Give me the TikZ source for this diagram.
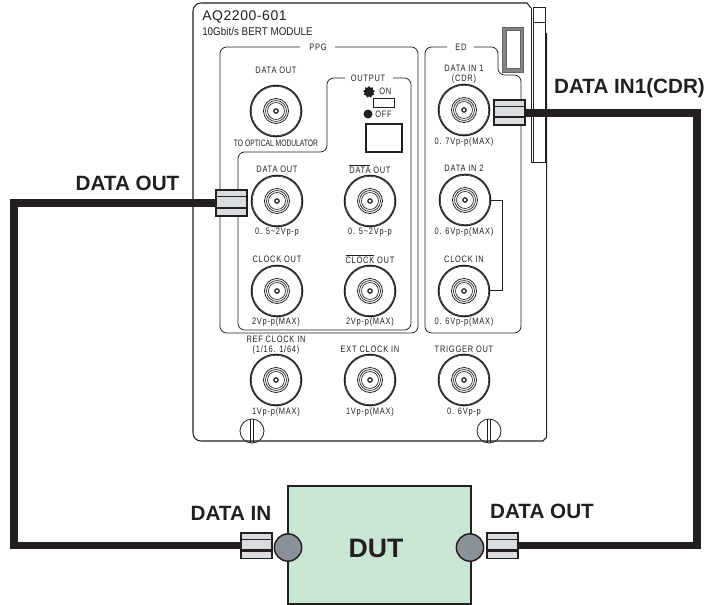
\documentclass[tikz,border=0pt]{standalone}
\usetikzlibrary{shapes.geometric}
\usepackage{fontspec}
\setmainfont{Liberation Sans}
\newfontfamily\panelfont{Liberation Sans}[FakeStretch=0.8,LetterSpace=8]
\newfontfamily\narrowfont{Liberation Sans}[FakeStretch=0.72]
\newfontfamily\subfont{Liberation Sans}[FakeStretch=0.88]
\newfontfamily\titlefont{Liberation Sans}[LetterSpace=4]
\definecolor{dutgreen}{HTML}{C9E6D4}
\definecolor{portgrey}{HTML}{8A9298}
\definecolor{plugface}{HTML}{D9DDE0}
\definecolor{ink}{HTML}{231F20}
\tikzset{
  x=0.75pt,y=-0.75pt,
  panelline/.style={draw=ink,line width=0.6pt,rounded corners=5pt},
  paneltext/.style={font=\fontsize{7}{7.5}\selectfont\panelfont,text=ink,inner sep=0pt,align=center},
  biglabel/.style={font=\fontsize{15.5}{17}\selectfont\bfseries,text=ink,inner sep=0pt},
  cable/.style={draw=ink,line width=5.5pt,line join=miter},
  port/.style={circle,draw=ink,line width=1.1pt,fill=portgrey,minimum size=20.5pt,inner sep=0pt},
  plugbody/.style={draw=ink,line width=1.1pt,fill=plugface},
}
\newcommand{\bnc}[3]{%
  \coordinate (#1) at (#2,#3);
  \draw[ink,line width=0.9pt] (#1) circle[radius=25.7];
  \draw[ink,line width=0.45pt] (#1) circle[radius=24.7];
  \draw[ink,line width=0.6pt] (#1) circle[radius=12.5];
  \draw[ink,line width=0.5pt] (#1) circle[radius=10.5];
  \draw[ink,line width=0.5pt] (#1) circle[radius=8.5];
  \draw[ink,line width=0.9pt] (#1) circle[radius=2.2];
}
\newcommand{\screw}[3]{%
  \coordinate (#1) at (#2,#3);
  \draw[ink,line width=0.6pt] (#1) circle[radius=12];
  \draw[ink,line width=0.5pt] ([xshift=-1.2]#1) ++(0,-11.9) -- ++(0,23.8);
  \draw[ink,line width=0.5pt] ([xshift=1.2]#1) ++(0,-11.9) -- ++(0,23.8);
}
\newcommand{\plug}[5]{% name, x0, y0, x1, y1
  \draw[plugbody] (#2,#3) rectangle (#4,#5);
  \node[minimum size=0,inner sep=0] (#1) at ({(#2+#4)/2},{(#3+#5)/2}) {};
  \draw[ink,line width=1.1pt] (#2,{#3+6.5}) -- (#4,{#3+6.5});
  \draw[ink,line width=1.6pt] (#2,{#5-8}) -- (#4,{#5-8});
}
\begin{document}
\begin{tikzpicture}
\useasboundingbox (0,0) rectangle (707,604);
% side slab of the module
\draw[ink,line width=0.6pt] (533,7) -- (545,7) -- (545,162) -- (531,162) -- (531,8);
\draw[ink,line width=0.6pt] (533,7) -- (533,162);
\draw[ink,line width=0.5pt] (533,22) -- (545,22);
% panel
\draw[ink,line width=0.8pt,rounded corners=6pt] (193,100) -- (193,3) -- (400,3);
\draw[ink,line width=0.8pt] (400,3) -- (527,3) -- (531,8);
\draw[ink,line width=0.8pt,rounded corners=6pt] (193,100) -- (193,441) -- (400,441);
\draw[ink,line width=0.8pt] (400,441) -- (543,441) -- (546.7,437) -- (546.7,33);
\node[anchor=west,inner sep=0,text=ink,font=\fontsize{10.5}{11}\selectfont\titlefont] (model) at (202,17) {AQ2200-601};
\node[anchor=west,inner sep=0,text=ink,font=\fontsize{8.4}{9}\selectfont\subfont] (sub) at (202,31) {10Gbit/s BERT MODULE};
% PPG frame
\draw[panelline] (300,47) -- (220,47) -- (220,333) -- (418,333) -- (418,47) -- (335,47);
\node[paneltext] (ppg) at (318,47) {PPG};
% output inner frame
\draw[panelline] (345,78) -- (327,78) -- (327,152) -- (238,152) -- (238,330) -- (411,330) -- (411,78) -- (393,78);
\node[paneltext] (outp) at (368,78) {OUTPUT};
\node[paneltext,anchor=west] (on) at (379,91) {ON};
\node[paneltext,anchor=west] (off) at (375,114) {OFF};
\node[star,star points=9,star point ratio=1.35,fill=ink,minimum size=9pt,inner sep=0] (sun) at (369,92) {};
\draw[ink,line width=0.6pt] (373,98) rectangle (394,107);
\fill[ink] (368,114) circle[radius=4.5];
\draw[ink,line width=0.8pt] (366,124) rectangle (402,152);
% ED frame
\draw[panelline] (447,47) -- (425,47) -- (425,333) -- (521,333) -- (521,75) -- (498,75) -- (498,47) -- (474,47);
\node[paneltext] (ed) at (461,47) {ED};
% handle
\draw[ink!70,fill=ink!55,line width=0.6pt] (502,27) rectangle (523,72);
\draw[ink!70,fill=white,line width=0.5pt] (506,30) rectangle (520.5,68);
% connectors
\bnc{a}{276}{111}
\bnc{b}{277}{201}
\bnc{c}{370}{201}
\bnc{d}{277}{291}
\bnc{e}{370}{291}
\bnc{f}{276}{380}
\bnc{g}{370}{380}
\bnc{h}{464}{380}
\bnc{i}{464}{110}
\bnc{j}{465}{200}
\bnc{k}{464}{291}
\screw{s1}{252}{431}
\screw{s2}{489}{431}
\draw[ink,line width=0.55pt] (j) ++(25,0) -- (502,200) -- (502,290) -- (489,290);
% panel text
\node[paneltext] at (276,70) {DATA OUT};
\node[paneltext,font=\fontsize{7}{7.5}\selectfont\narrowfont] at (276,143) {TO OPTICAL MODULATOR};
\node[paneltext] at (277,169) {DATA OUT};
\node[paneltext] at (370,169) {$\overline{\mbox{DATA}}$ OUT};
\node[paneltext] at (277,232) {0. 5\textasciitilde 2Vp-p};
\node[paneltext] at (370,232) {0. 5\textasciitilde 2Vp-p};
\node[paneltext] at (277,259) {CLOCK OUT};
\node[paneltext] at (370,259) {$\overline{\mbox{CLOCK}}$ OUT};
\node[paneltext] at (276,322) {2Vp-p(MAX)};
\node[paneltext] at (370,322) {2Vp-p(MAX)};
\node[paneltext] at (276,345) {REF CLOCK IN\\(1/16. 1/64)};
\node[paneltext] at (370,349) {EXT CLOCK IN};
\node[paneltext] at (464,349) {TRIGGER OUT};
\node[paneltext] at (276,412) {1Vp-p(MAX)};
\node[paneltext] at (370,412) {1Vp-p(MAX)};
\node[paneltext] at (464,412) {0. 6Vp-p};
\node[paneltext] at (464,74) {DATA IN 1\\(CDR)};
\node[paneltext] at (464,142) {0. 7Vp-p(MAX)};
\node[paneltext] at (464,168) {DATA IN 2};
\node[paneltext] at (464,232) {0. 6Vp-p(MAX)};
\node[paneltext] at (464,259) {CLOCK IN};
\node[paneltext] at (464,322) {0. 6Vp-p(MAX)};
% DUT
\node[draw=ink,line width=1.1pt,fill=dutgreen,minimum width=137pt,minimum height=88.5pt,inner sep=0] (dut) at (379.5,545) {};
\node[inner sep=0,text=ink,font=\fontsize{20}{22}\selectfont\bfseries] (dutname) at (376,548) {DUT};
\node[port] (pl) at (288,547.5) {};
\node[port] (pr) at (470,547.5) {};
% cables
\coordinate (c1) at (14,203);
\coordinate (c2) at (14,545.5);
\coordinate (c3) at (697,545.5);
\coordinate (c4) at (697,113);
\node[inner sep=0,minimum size=0] (pa) at (231.5,203) {};
\node[inner sep=0,minimum size=0] (pb) at (509.5,113) {};
\node[inner sep=0,minimum size=0] (pc) at (256.5,545.5) {};
\node[inner sep=0,minimum size=0] (pd) at (502.5,545.5) {};
\draw[cable] (pa.center) -- (c1) -- (c2) -- (pc.center);
\draw[cable] (pd.center) -- (c3) -- (c4) -- (pb.center);
% plugs
\plug{q1}{216}{190}{247}{216}
\plug{q2}{494}{100}{525}{125}
\plug{q3}{241}{533}{272}{558.5}
\plug{q4}{487}{533}{518}{558.5}
% big labels
\node[biglabel] (l1) at (127.5,183) {DATA OUT};
\node[biglabel] (l2) at (629.5,88) {DATA IN1(CDR)};
\node[biglabel] (l3) at (231,513) {DATA IN};
\node[biglabel] (l4) at (542,511) {DATA OUT};
\end{tikzpicture}
\end{document}
